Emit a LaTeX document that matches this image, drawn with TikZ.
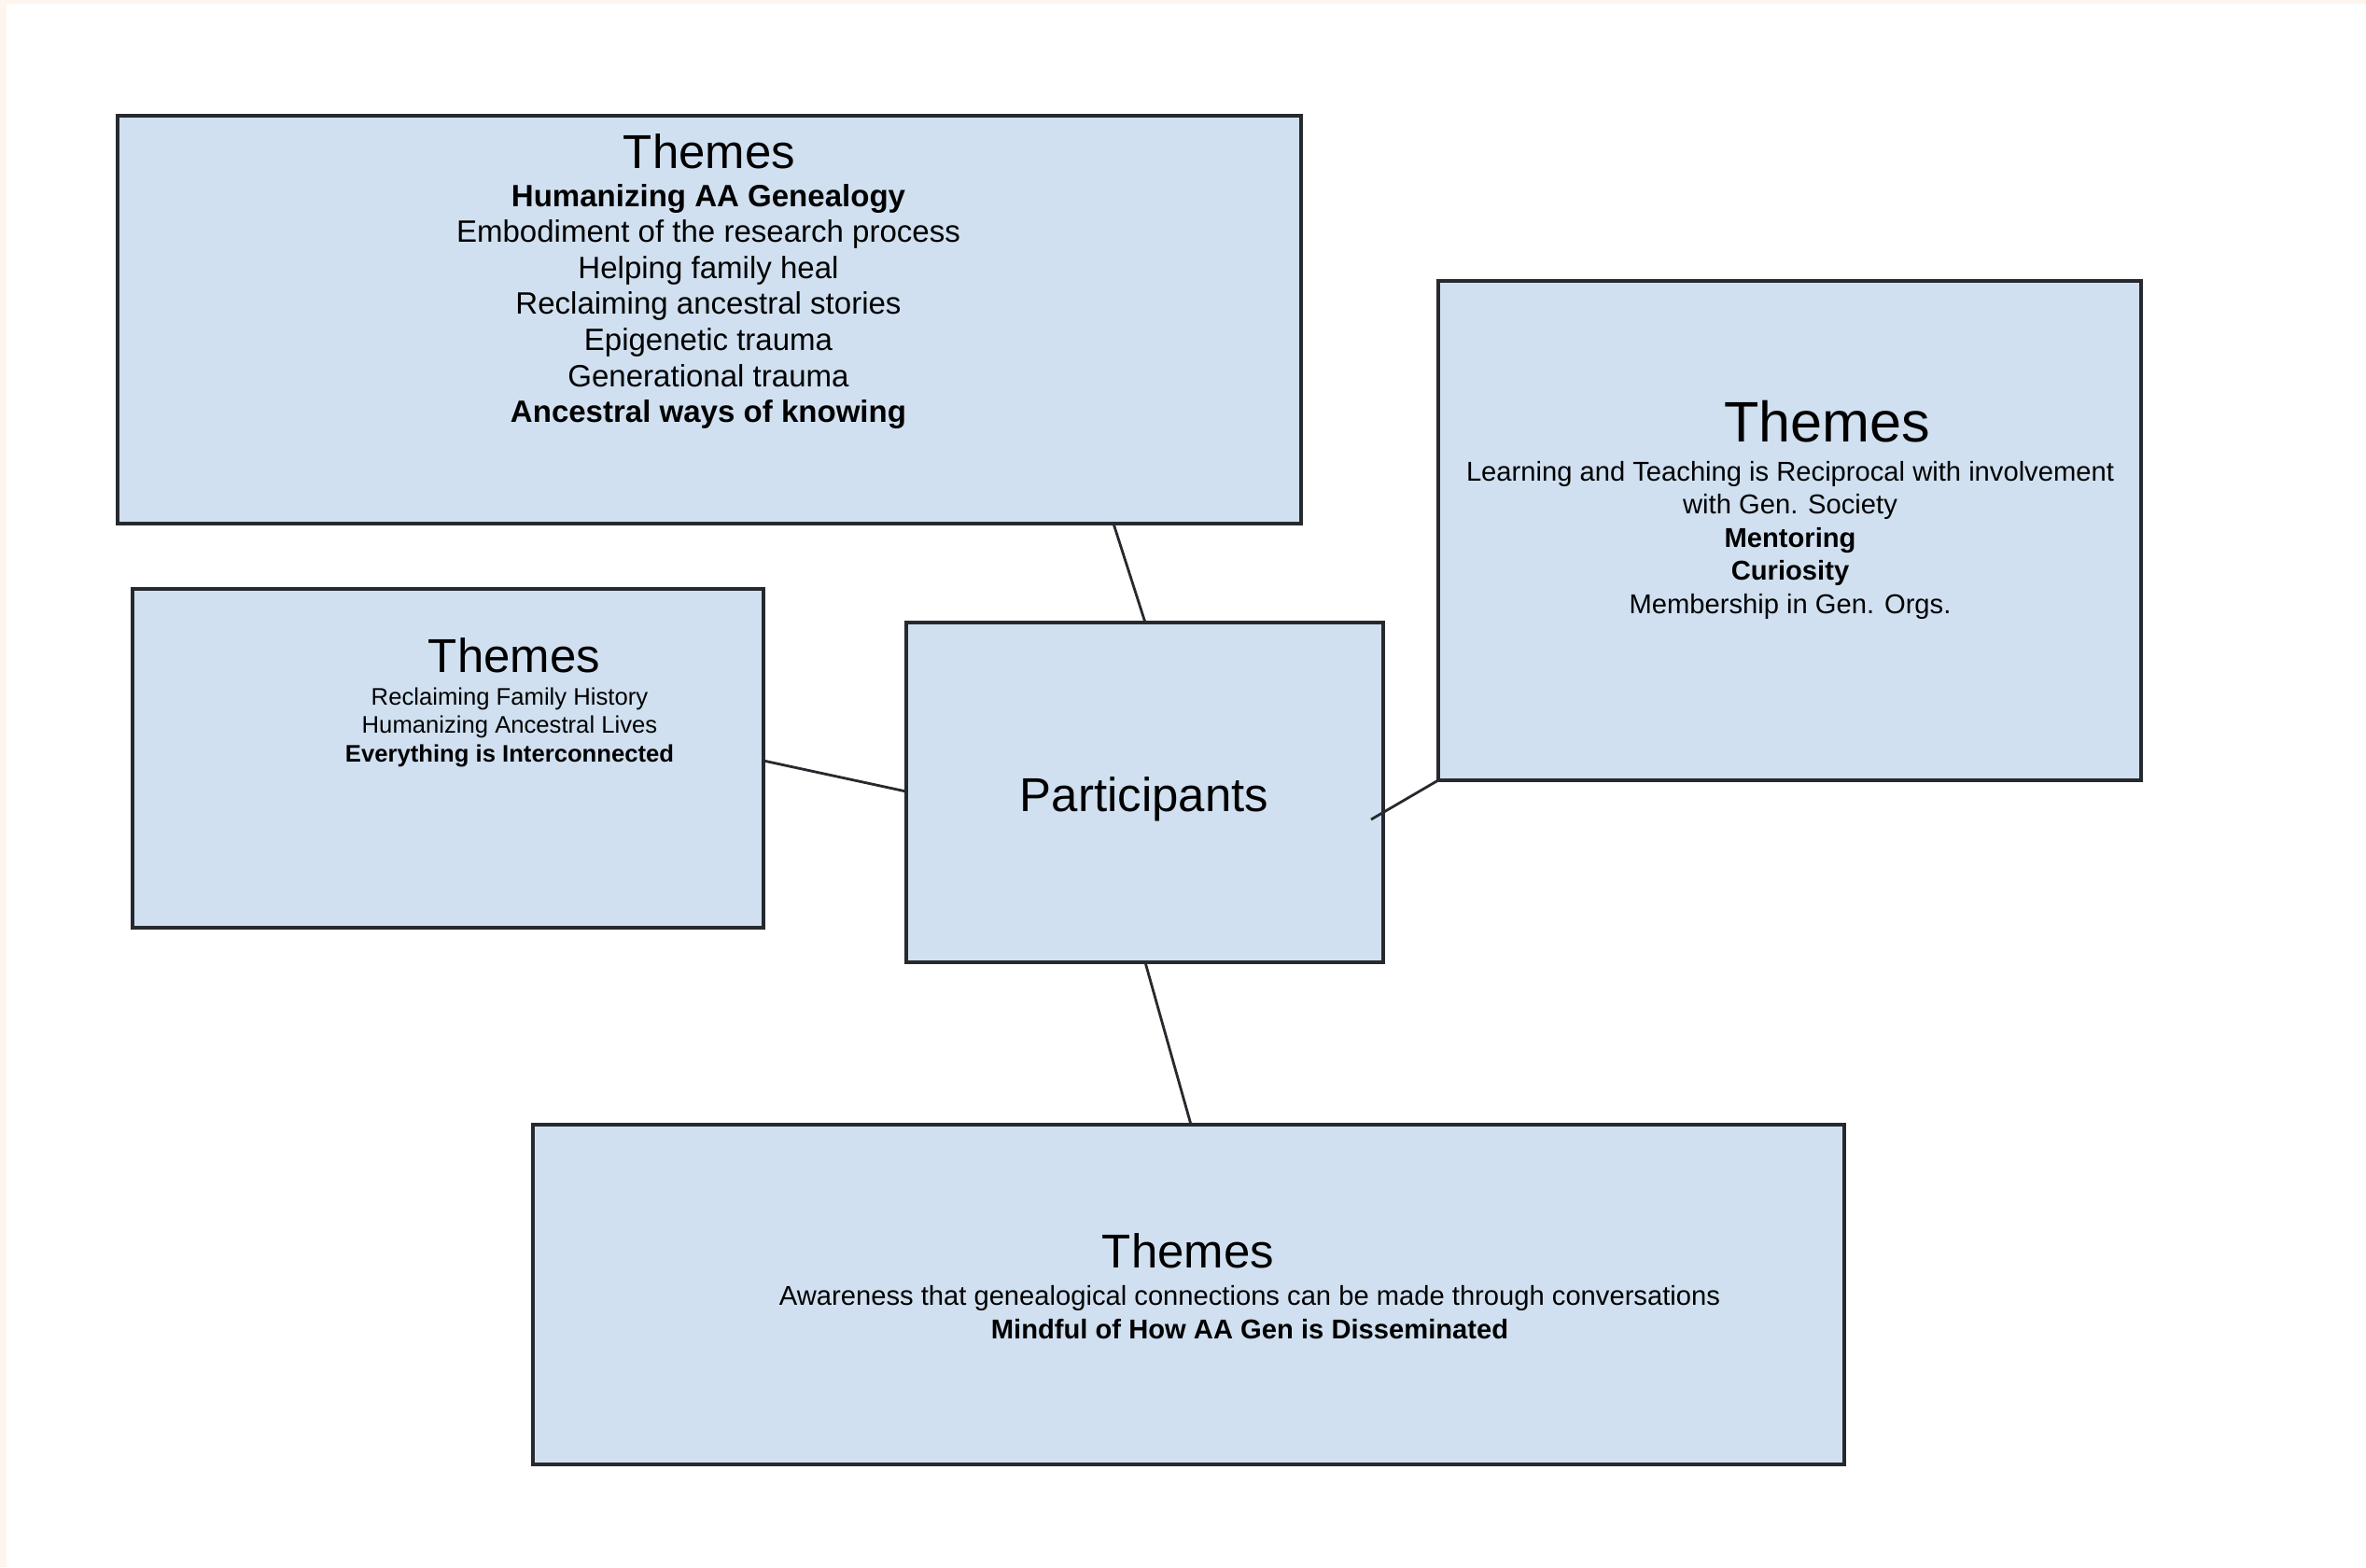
\documentclass[tikz,border=0pt]{standalone}
\usepackage{fontspec}
\setmainfont{Liberation Sans}
\definecolor{themeblue}{RGB}{208,224,240}
\definecolor{pagecream}{RGB}{253,245,238}
\definecolor{edgegray}{RGB}{38,42,46}

\tikzset{
  themebox/.style={draw=edgegray, line width=0.9pt, fill=themeblue, inner sep=0pt, outer sep=0pt},
  themetitle/.style={inner sep=0pt, font=\fontsize{14.5}{17}\selectfont},
  themetext/.style={inner sep=0pt, align=center},
  link/.style={draw=edgegray, line width=0.8pt}
}

\begin{document}
\begin{tikzpicture}
    \useasboundingbox (0,0) rectangle (25.35,-16.79);
    \fill[pagecream] (0,0) rectangle (25.35,-16.79);
    \fill[white] (0.07,-0.04) rectangle (25.35,-16.79);

    % boxes
    \node[themebox, minimum width=12.68cm, minimum height=4.37cm] (ancestral) at (7.60,-3.425) {};
    \node[themebox, minimum width=6.76cm, minimum height=3.63cm] (history) at (4.80,-8.125) {};
    \node[themebox, minimum width=5.11cm, minimum height=3.64cm] (part) at (12.265,-8.49) {};
    \node[themebox, minimum width=7.53cm, minimum height=5.35cm] (society) at (19.175,-5.685) {};
    \node[themebox, minimum width=14.05cm, minimum height=3.64cm] (talk) at (12.735,-13.87) {};

    % texts
    \node[themetitle] (ancestraltitle) at (7.60,-1.62) {Themes};
    \node[themetext, font=\fontsize{9.4}{11}\selectfont] (ancestraltext) at (7.59,-3.285) {
        \textbf{Humanizing AA Genealogy} \\
        Embodiment of the research process \\
        Helping family heal \\
        Reclaiming ancestral stories \\
        Epigenetic trauma \\
        Generational trauma \\
        \textbf{Ancestral ways of knowing}
    };

    \node[themetitle] (historytitle) at (5.51,-7.02) {Themes};
    \node[themetext, font=\fontsize{7.3}{8.7}\selectfont] (historytext) at (5.46,-7.79) {
        Reclaiming Family History \\
        Humanizing Ancestral Lives \\
        \textbf{Everything is Interconnected}
    };

    \node[inner sep=0pt, font=\fontsize{14.5}{17}\selectfont] (parttext) at (12.26,-8.565) {Participants};

    \node[themetitle, font=\fontsize{17.4}{20}\selectfont] (societytitle) at (19.58,-4.52) {Themes};
    \node[themetext, font=\fontsize{8.3}{10.1}\selectfont] (societytext) at (19.18,-5.785) {
        Learning and Teaching is Reciprocal with involvement \\
        with Gen. Society \\
        \textbf{Mentoring} \\
        \textbf{Curiosity} \\
        Membership in Gen. Orgs.
    };

    \node[themetitle] (talktitle) at (12.73,-13.40) {Themes};
    \node[themetext, font=\fontsize{8.3}{10.2}\selectfont] (talktext) at (13.39,-14.06) {
        Awareness that genealogical connections can be made through conversations \\
        \textbf{Mindful of How AA Gen is Disseminated}
    };

    % connectors
    \draw[link] ([xshift=10.67cm]ancestral.south west) -- ([xshift=2.56cm]part.north west);
    \draw[link] ([yshift=-1.84cm]history.north east) -- ([yshift=-1.81cm]part.north west);
    \draw[link] ([xshift=-0.13cm,yshift=-2.11cm]part.north east) -- (society.south west);
    \draw[link] ([xshift=2.56cm]part.south west) -- ([xshift=7.05cm]talk.north west);
\end{tikzpicture}
\end{document}
